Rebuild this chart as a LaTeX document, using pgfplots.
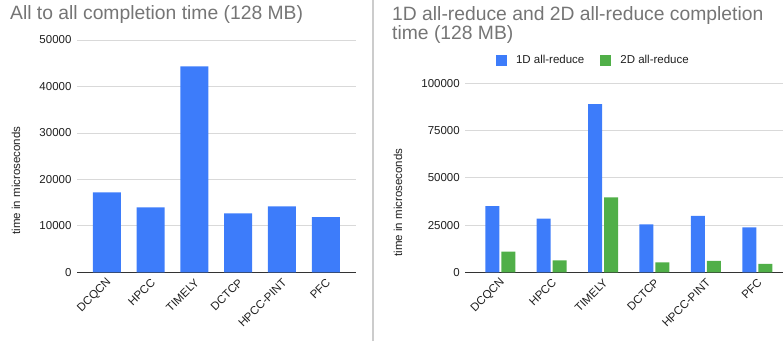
\documentclass[border=0pt]{standalone}
\usepackage{pgfplots}
\pgfplotsset{compat=1.18}
\usepackage{fontspec}
\setmainfont{Liberation Sans}
\definecolor{barblue}{RGB}{61,124,250}
\definecolor{bargreen}{RGB}{80,175,72}
\definecolor{titlegray}{RGB}{117,117,117}
\definecolor{gridgray}{RGB}{217,217,217}
\definecolor{axisgray}{RGB}{51,51,51}
\definecolor{sepgray}{RGB}{204,204,204}
\newcommand{\sfs}{\fontsize{11.5}{13}\selectfont}
\pgfplotsset{
  gs/.style={
    scale only axis,
    axis line style={draw=none},
    major tick length=0pt,
    ymin=0,
    ymajorgrids,
    grid style={gridgray, line width=0.8pt},
    extra y ticks={0},
    extra y tick labels={},
    extra y tick style={grid style={axisgray, line width=0.9pt}},
    scaled y ticks=false,
    /pgf/number format/.cd, fixed, precision=0, 1000 sep={}, assume math mode=true, /pgfplots/.cd,
    yticklabel style={font=\sfs, text=black!88, xshift=-2pt},
    xticklabel style={font=\sfs, text=black!88, xshift=5pt, yshift=-6pt, rotate=45, anchor=east},
    xtick=data,
    xticklabels={DCQCN,HPCC,TIMELY,DCTCP,HPCC-PINT,PFC},
    ylabel={time in microseconds},
  },
}
\begin{document}
\begin{tikzpicture}[x=1pt,y=1pt]
\path[use as bounding box] (0,0) rectangle (783,341);
\draw[sepgray, line width=2pt] (372.5,0) -- (372.5,341);
\node[anchor=base west, inner sep=0pt, text=titlegray, font=\fontsize{19.3}{22}\selectfont] at (10,321.5) {All to all completion time (128 MB)};
\node[anchor=base west, inner sep=0pt, text=titlegray, font=\fontsize{19.3}{22}\selectfont] at (392,320.5) {1D all-reduce and 2D all-reduce completion};
\node[anchor=base west, inner sep=0pt, text=titlegray, font=\fontsize{19.3}{22}\selectfont] at (392,301.5) {time (128 MB)};

\begin{axis}[gs,
  at={(77pt,68.7pt)}, anchor=south west,
  width=279pt, height=232.3pt,
  xmin=-0.68, xmax=5.69, ymax=50000,
  ytick={0,10000,20000,30000,40000,50000},
  every axis y label/.style={at={(axis description cs:0,0.395)}, xshift=-61pt, rotate=90, anchor=center, font=\sfs, text=black!88},
]
\addplot[ybar, bar width=28pt, fill=barblue, draw=none] coordinates {
(0,17200) (1,14000) (2,44300) (3,12700) (4,14200) (5,11900)};
\end{axis}

\begin{axis}[gs,
  at={(465.3pt,68.7pt)}, anchor=south west,
  width=317.7pt, height=189pt,
  xmin=-0.68, xmax=5.5, ymax=100000,
  ytick={0,25000,50000,75000,100000},
  ybar=2pt, bar width=14pt,
  every axis y label/.style={at={(axis description cs:0,0.369)}, xshift=-67.3pt, rotate=90, anchor=center, font=\sfs, text=black!88},
  legend columns=2,
  legend image code/.code={\fill[#1] (0pt,-5.5pt) rectangle (11pt,5.5pt);},
  legend style={at={(axis description cs:0,1)}, xshift=30.7pt, yshift=23.3pt, anchor=west,
    draw=none, fill=none, inner sep=0pt, outer sep=0pt, font=\sfs,
    nodes={inner sep=0pt, text=black!88},
    /tikz/every odd column/.style={column sep=9pt},
    /tikz/every even column/.style={column sep=16pt}},
]
\addplot[fill=barblue, draw=none] coordinates {
(0,35000) (1,28400) (2,89000) (3,25400) (4,29900) (5,23800)};
\addlegendentry{1D all-reduce}
\addplot[fill=bargreen, draw=none] coordinates {
(0,10900) (1,6300) (2,39700) (3,5300) (4,6000) (5,4400)};
\addlegendentry{2D all-reduce}
\end{axis}
\end{tikzpicture}
\end{document}
